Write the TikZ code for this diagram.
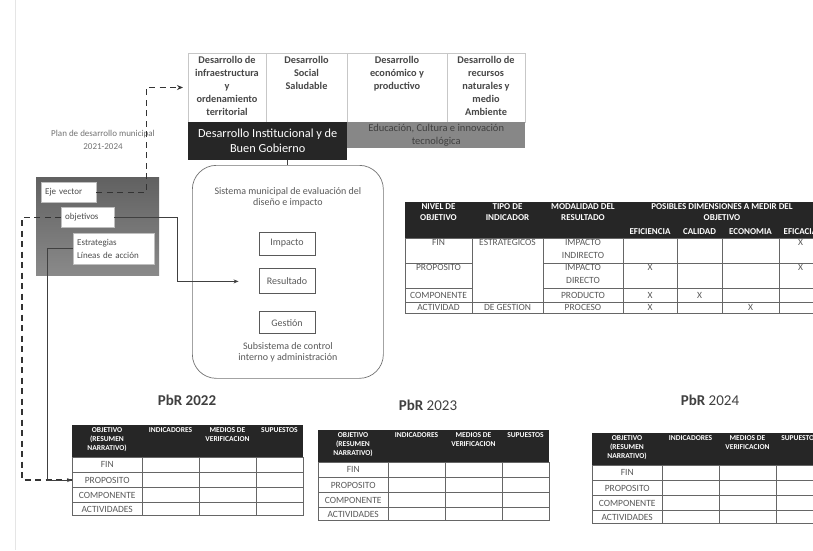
\documentclass[tikz,border=0pt]{standalone}
\usepackage{fontspec}
\setmainfont{Carlito}
\usetikzlibrary{positioning, arrows.meta}
\tikzset{
    sector/.style = {rectangle, draw = black!22, line width = 0.6pt, minimum height = 69, inner sep = 0pt, outer sep = 0pt},
    sectortexto/.style = {text = black!72, align = center, inner sep = 1pt, font = \bfseries\fontsize{10.3}{13}\selectfont},
    oscuro/.style = {rectangle, fill = black!85, text = white, align = center, inner sep = 0pt, font = \fontsize{12.3}{15}\selectfont},
    franja/.style = {rectangle, fill = black!47, text = black!75, align = center, inner sep = 0pt, font = \fontsize{10.5}{12.5}\selectfont},
    plantexto/.style = {text = black!55, align = center, font = \fontsize{9}{13}\selectfont},
    plan/.style = {rectangle, top color = black!62, bottom color = black!46, inner sep = 0pt},
    eje/.style = {rectangle, fill = white, draw = black!25, text = black!70, align = left, inner sep = 4pt, minimum height = 20, font = \fontsize{9}{13}\selectfont},
    sistema/.style = {rectangle, draw = black!55, line width = 0.7pt, rounded corners = 24pt, inner sep = 0pt},
    sistematexto/.style = {text = black!65, align = center, inner sep = 0pt, font = \fontsize{10}{11.5}\selectfont},
    nivel/.style = {rectangle, draw = black!65, line width = 0.9pt, fill = white, text = black!65, font = \fontsize{10}{11}\selectfont},
    discontinua/.style = {draw = black!80, line width = 1.4pt, dash pattern = on 6pt off 4.5pt},
    linea/.style = {draw = black!75, line width = 1pt},
    cabecera/.style = {fill = black!85},
    rejilla/.style = {draw = black!60, line width = 0.8pt},
    encab/.style = {text = white, align = center, inner sep = 0pt, font = \bfseries\fontsize{9}{11}\selectfont},
    encabpbr/.style = {text = white, align = center, inner sep = 0pt, font = \bfseries\fontsize{7.5}{9}\selectfont},
    celda/.style = {text = black!65, align = center, inner sep = 0pt, font = \fontsize{9.5}{12.5}\selectfont},
    titulo/.style = {text = black!75, font = \fontsize{15}{17}\selectfont}
}

\begin{document}
\begin{tikzpicture}[x = 1pt, y = -1pt]
    \clip (0,0) rectangle (813,550);
    \fill [white] (0,0) rectangle (813,550);
    \draw [black!10, line width = 1pt] (15,0) -- (15,550);

    % ejes del plan
    \node [sector, minimum width = 78, anchor = north west] (s1) at (188,53) {};
    \node [sector, minimum width = 81, right = 0pt of s1] (s2) {};
    \node [sector, minimum width = 100, right = 0pt of s2] (s3) {};
    \node [sector, minimum width = 78, right = 0pt of s3] (s4) {};
    \node [sectortexto, below = 2pt of s1.north] (t1) {Desarrollo de\\infraestructura\\y\\ordenamiento\\territorial};
    \node [sectortexto, below = 2pt of s2.north] (t2) {Desarrollo\\Social\\Saludable};
    \node [sectortexto, below = 2pt of s3.north] (t3) {Desarrollo\\económico y\\productivo};
    \node [sectortexto, below = 2pt of s4.north] (t4) {Desarrollo de\\recursos\\naturales y\\medio\\Ambiente};
    \node [oscuro, minimum width = 159, minimum height = 38, anchor = north west] (dig) at (s1.south west) {Desarrollo Institucional y de\\Buen Gobierno};
    \node [franja, minimum width = 178, minimum height = 26, anchor = north west] (ecit) at (s3.south west) {Educación, Cultura e innovación\\tecnológica};

    % plan municipal
    \node [plantexto] (pd) at (103,139.5) {Plan de desarrollo municipal\\2021-2024};
    \node [plan, minimum width = 123, minimum height = 98, anchor = north west] (pdm) at (36,177) {};
    \node [eje, text width = 47, anchor = north west] (eje) at (41,182) {Eje vector};
    \node [eje, text width = 45, anchor = north west] (obj) at (61,207) {objetivos};
    \node [eje, text width = 73, minimum height = 31, anchor = north west] (estr) at (73,233) {Estrategias\\Líneas de acción};

    % sistema de evaluacion
    \node [sistema, minimum width = 191, minimum height = 213, anchor = north west] (sme) at (192,165) {};
    \node [sistematexto, below = 22pt of sme.north] (smet) {Sistema municipal de evaluación del\\diseño e impacto};
    \node [nivel, minimum width = 56, minimum height = 23] (imp) at (287,243.5) {Impacto};
    \node [nivel, minimum width = 56, minimum height = 25, below = 13pt of imp] (res) {Resultado};
    \node [nivel, minimum width = 56, minimum height = 22, below = 17pt of res] (ges) {Gestión};
    \node [sistematexto, above = 16pt of sme.south] (subs) {Subsistema de control\\interno y administración};

    % matriz de indicadores
    \fill [cabecera] (405,202) rectangle (822,238);
    \draw [rejilla] (405,238) rectangle (822,313);
    \draw [rejilla] (405,263) -- (472,263) (543,263) -- (822,263);
    \draw [rejilla] (405,288) -- (472,288) (543,288) -- (822,288);
    \draw [rejilla] (405,302) -- (822,302);
    \foreach \c in {472,543,623,677,722,779} \draw [rejilla] (\c,238) -- (\c,313);
    \node [encab, anchor = north] (h-nivel) at (438.5,203) {NIVEL DE\\OBJETIVO};
    \node [encab, anchor = north] (h-tipo) at (507.5,203) {TIPO DE\\INDICADOR};
    \node [encab, anchor = north] (h-mod) at (583,203) {MODALIDAD DEL\\RESULTADO};
    \node [encab, anchor = north] (h-dim) at (722,203) {POSIBLES DIMENSIONES A MEDIR DEL\\OBJETIVO};
    \node [encab] (h-efi) at (650,232) {EFICIENCIA};
    \node [encab] (h-cal) at (699.5,232) {CALIDAD};
    \node [encab] (h-eco) at (750.5,232) {ECONOMIA};
    \node [encab] (h-efc) at (800.5,232) {EFICACIA};
    \node [celda, anchor = north] (c-fin) at (438.5,239.5) {FIN};
    \node [celda, anchor = north] (c-est) at (507.5,239.5) {ESTRATEGICOS};
    \node [celda, anchor = north] (c-ii) at (583,239.5) {IMPACTO\\INDIRECTO};
    \node [celda, anchor = north] (c-x1) at (800.5,239.5) {X};
    \node [celda, anchor = north] (c-prop) at (438.5,264.5) {PROPOSITO};
    \node [celda, anchor = north] (c-id) at (583,264.5) {IMPACTO\\DIRECTO};
    \node [celda, anchor = north] (c-x2) at (650,264.5) {X};
    \node [celda, anchor = north] (c-x3) at (800.5,264.5) {X};
    \node [celda] (c-comp) at (438.5,295) {COMPONENTE};
    \node [celda] (c-prod) at (583,295) {PRODUCTO};
    \node [celda] (c-x4) at (650,295) {X};
    \node [celda] (c-x5) at (699.5,295) {X};
    \node [celda] (c-act) at (438.5,307.5) {ACTIVIDAD};
    \node [celda] (c-ges) at (507.5,307.5) {DE GESTION};
    \node [celda] (c-proc) at (583,307.5) {PROCESO};
    \node [celda] (c-x6) at (650,307.5) {X};
    \node [celda] (c-x7) at (750.5,307.5) {X};

    % tablas PbR
    \foreach \anio/\px/\py/\tx/\ty/\titulo in {2022/72/425/187/400/{\textbf{PbR 2022}}, 2023/318/430/428/405/{\textbf{PbR} 2023}, 2024/592/433/710/400/{\textbf{PbR} 2024}} {
        \node [titulo] (pbr\anio) at (\tx,\ty) {\titulo};
        \begin{scope}[shift = {(\px,\py)}]
            \fill [cabecera] (0,0) rectangle (231,32);
            \draw [rejilla] (0,32) rectangle (231,90);
            \foreach \f in {47,62,77} \draw [rejilla] (0,\f) -- (231,\f);
            \foreach \c in {70,127,184} \draw [rejilla] (\c,32) -- (\c,90);
            \node [encabpbr, anchor = north] (obj\anio) at (35,2) {OBJETIVO\\(RESUMEN\\NARRATIVO)};
            \node [encabpbr, anchor = north] (ind\anio) at (98.5,2) {INDICADORES};
            \node [encabpbr, anchor = north] (med\anio) at (155.5,2) {MEDIOS DE\\VERIFICACION};
            \node [encabpbr, anchor = north] (sup\anio) at (207.5,2) {SUPUESTOS};
            \node [celda, minimum width = 70, minimum height = 15, anchor = north west] (fin\anio) at (0,32) {FIN};
            \node [celda, minimum width = 70, minimum height = 15, below = 0pt of fin\anio] (prop\anio) {PROPOSITO};
            \node [celda, minimum width = 70, minimum height = 15, below = 0pt of prop\anio] (comp\anio) {COMPONENTE};
            \node [celda, minimum width = 70, minimum height = 13, below = 0pt of comp\anio] (act\anio) {ACTIVIDADES};
        \end{scope}
    }

    % conectores
    \draw [discontinua, -{Stealth[length = 6pt, width = 5pt]}, shorten >= 5pt] (eje.east) -- ++(50,0) |- (s1.west);
    \draw [discontinua] (obj.west) -- ++(-39,0) |- (prop2022.west);
    \draw [linea, -{Stealth[length = 5pt, width = 4pt]}] (estr.west) -- ++(-26,0) |- (prop2022.west);
    \draw [linea, -{Stealth[length = 5pt, width = 4pt]}, shorten >= 20pt] (obj.east) -- ++(63,0) |- (res.west);
    \draw [linea] (sme.north |- dig.south) -- (sme.north);
\end{tikzpicture}
\end{document}
